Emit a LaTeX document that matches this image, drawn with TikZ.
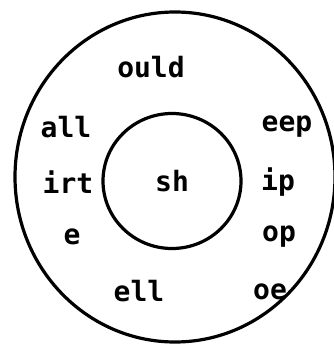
\documentclass[tikz,border=0pt]{standalone}
\usepackage{fontspec}
\usepackage{tikz}
\usetikzlibrary{shapes.geometric}
\newfontfamily\wordfont{DejaVu Sans Mono}

\begin{document}
\begin{tikzpicture}[
  x=1pt, y=-1pt,
  ring/.style={
    ellipse, draw=black, line width=3.2pt, inner sep=0pt
  },
  ending/.style={
    font=\wordfont\bfseries\fontsize{28}{28}\selectfont, text=black, inner sep=0pt
  }
]
\useasboundingbox (0,0) rectangle (333,347);

% the two rings
\node[ring, minimum width=320pt, minimum height=330pt] (outer) at (175,177) {};
\node[ring, minimum width=138pt, minimum height=135pt, ending] (onset) at (172,181) {sh};

% word endings round the ring
\node[ending] (ould) at (151,67) {ould};
\node[ending] (all) at (66,127) {all};
\node[ending] (eep) at (287,127) {eep};
\node[ending] (irt) at (68,182) {irt};
\node[ending] (ip) at (278,182) {ip};
\node[ending] (e) at (72,237) {e};
\node[ending] (op) at (279,237) {op};
\node[ending] (ell) at (139,291) {ell};
\node[ending] (oe) at (270,292) {oe};

\end{tikzpicture}
\end{document}
